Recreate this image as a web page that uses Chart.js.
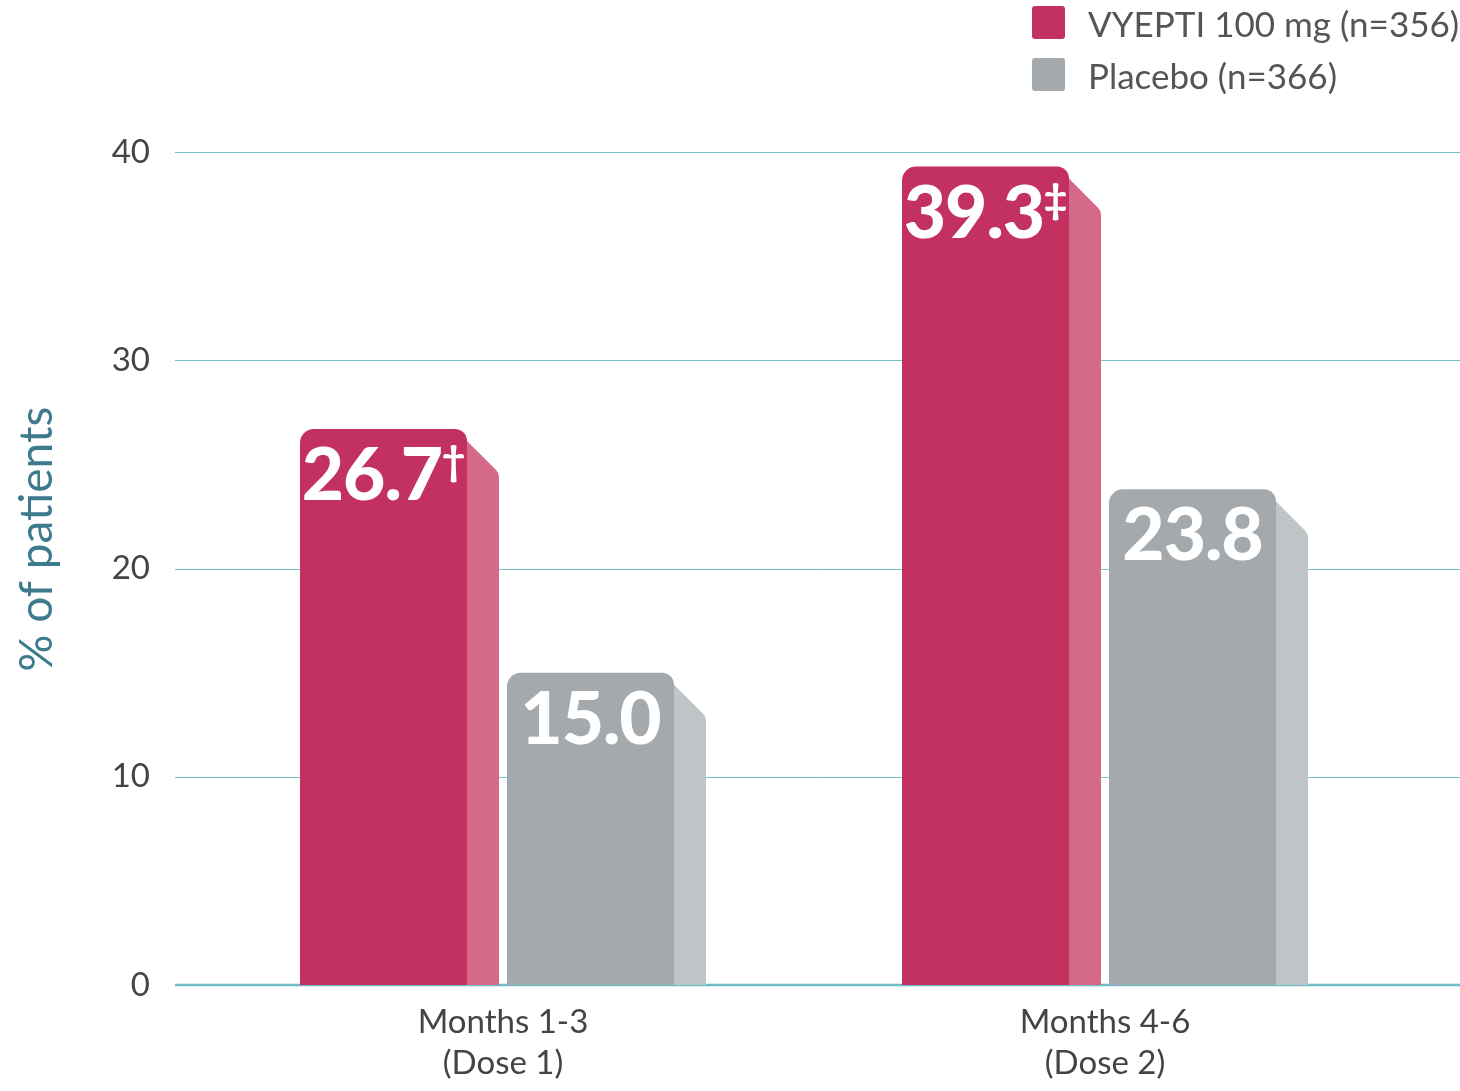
<!DOCTYPE html>
<html>
<head>
<meta charset="utf-8">
<script src="https://cdn.jsdelivr.net/npm/chart.js@4/dist/chart.umd.min.js"></script>
<style>
  html, body { margin: 0; padding: 0; background: #fff; }
  #wrap { position: relative; width: 1460px; height: 1091px; }
  #legend { position: absolute; left: 1032px; top: 6px; font-family: Lato, "Open Sans", sans-serif; font-size: 35px; color: #555; }
  .li { display: flex; align-items: center; height: 33px; margin-bottom: 19px; }
  .sw { width: 33px; height: 33px; border-radius: 3px; margin-right: 23px; }
</style>
</head>
<body>
<div id="wrap">
  <canvas id="c" width="1460" height="1091"></canvas>
  <div id="legend"></div>
</div>
<script>
const categories = [["Months 1-3", "(Dose 1)"], ["Months 4-6", "(Dose 2)"]];
const seriesNames = ["VYEPTI 100 mg (n=356)", "Placebo (n=366)"];
const vyeptiValues = [26.7, 39.3];
const placeboValues = [15.0, 23.8];
const vyeptiMarks = ["\u2020", "\u2021"];
const placeboMarks = ["", ""];
const yTicks = [0, 10, 20, 30, 40];
const yTitle = "% of patients";

const frontColors = ["#c23160", "#a3a9ac"];
const sideColors = ["#d56a88", "#bfc4c7"];

// legend
const leg = document.getElementById('legend');
seriesNames.forEach((n, i) => {
  const d = document.createElement('div'); d.className = 'li';
  d.innerHTML = '<div class="sw" style="background:' + frontColors[i] + '"></div><span>' + n + '</span>';
  leg.appendChild(d);
});

const gridPlugin = {
  id: 'grid',
  beforeDatasetsDraw(chart) {
    const ctx = chart.ctx, ys = chart.scales.y;
    ctx.save();
    ys.ticks.forEach(t => {
      const y = Math.round(ys.getPixelForValue(t.value));
      ctx.beginPath();
      if (t.value === 0) { ctx.lineWidth = 2.5; ctx.strokeStyle = '#6dbcc7'; ctx.moveTo(175, y); ctx.lineTo(1460, y); }
      else { ctx.lineWidth = 1; ctx.strokeStyle = '#78c0c6'; ctx.moveTo(175, y + 0.5); ctx.lineTo(1460, y + 0.5); }
      ctx.stroke();
    });
    ctx.restore();
  }
};

const barPlugin = {
  id: 'bars3d',
  afterDatasetsDraw(chart) {
    const ctx = chart.ctx;
    const marks = [vyeptiMarks, placeboMarks];
    chart.data.datasets.forEach((ds, di) => {
      const meta = chart.getDatasetMeta(di);
      meta.data.forEach((el, i) => {
        const L = el.x - el.width / 2, R = el.x + el.width / 2;
        const sideW = el.width * 32 / 199;
        const F = R - sideW;
        const T = el.y, B = el.base;
        ctx.save();
        // side face
        ctx.beginPath();
        ctx.moveTo(F - 12, T);
        ctx.arcTo(R, T + (R - F) + 12, R, B, 10);
        ctx.lineTo(R, B);
        ctx.lineTo(F - 12, B);
        ctx.closePath();
        ctx.fillStyle = sideColors[di];
        ctx.fill();
        // front face
        ctx.beginPath();
        ctx.roundRect(L, T, F - L, B - T, [14, 12, 0, 0]);
        ctx.fillStyle = frontColors[di];
        ctx.fill();
        // label
        const val = ds.data[i].toFixed(1);
        const mk = marks[di][i];
        ctx.fillStyle = '#fff';
        ctx.textBaseline = 'alphabetic';
        ctx.textAlign = 'left';
        ctx.font = '900 73px Lato, "Open Sans", sans-serif';
        ctx.letterSpacing = '-1px';
        const w1 = ctx.measureText(val).width;
        ctx.font = '900 40px Lato, "Open Sans", sans-serif';
        ctx.letterSpacing = '0px';
        const w2 = mk ? ctx.measureText(mk).width : 0;
        const x0 = (L + F) / 2 - (w1 + w2) / 2;
        ctx.font = '900 73px Lato, "Open Sans", sans-serif';
        ctx.letterSpacing = '-1px';
        ctx.fillText(val, x0, T + 71);
        if (mk) {
          ctx.font = '900 40px Lato, "Open Sans", sans-serif';
          ctx.letterSpacing = '0px';
          ctx.fillText(mk, x0 + w1, T + 46);
        }
        ctx.restore();
      });
    });
  }
};

new Chart(document.getElementById('c'), {
  type: 'bar',
  data: {
    labels: categories,
    datasets: [
      { label: seriesNames[0], data: vyeptiValues, backgroundColor: 'rgba(0,0,0,0)' },
      { label: seriesNames[1], data: placeboValues, backgroundColor: 'rgba(0,0,0,0)' }
    ]
  },
  options: {
    responsive: false,
    animation: false,
    devicePixelRatio: 1,
    categoryPercentage: 0.6877,
    barPercentage: 0.9614,
    layout: { padding: { top: 152, right: 54, left: 0, bottom: 0 } },
    plugins: { legend: { display: false }, tooltip: { enabled: false } },
    scales: {
      x: {
        grid: { display: false, drawTicks: false },
        border: { display: false },
        ticks: {
          color: '#444',
          padding: 17,
          font: { family: 'Lato, "Open Sans", sans-serif', size: 33, lineHeight: '41px' }
        },
        afterFit(s) { s.height = 106; }
      },
      y: {
        min: 0, max: 40,
        afterBuildTicks(s) { s.ticks = yTicks.map(v => ({ value: v })); },
        grid: { display: false, drawTicks: false },
        border: { display: false },
        ticks: {
          color: '#444',
          padding: 52,
          font: { family: 'Lato, "Open Sans", sans-serif', size: 33 }
        },
        title: {
          display: true,
          text: '\u00a0\u00a0\u00a0\u00a0\u00a0' + yTitle,
          color: '#3e7a8d',
          padding: { top: 10, bottom: 0 },
          font: { family: 'Lato, "Open Sans", sans-serif', size: 46 }
        },
        afterFit(s) { s.width = 202; }
      }
    }
  },
  plugins: [gridPlugin, barPlugin]
});
</script>
</body>
</html>
